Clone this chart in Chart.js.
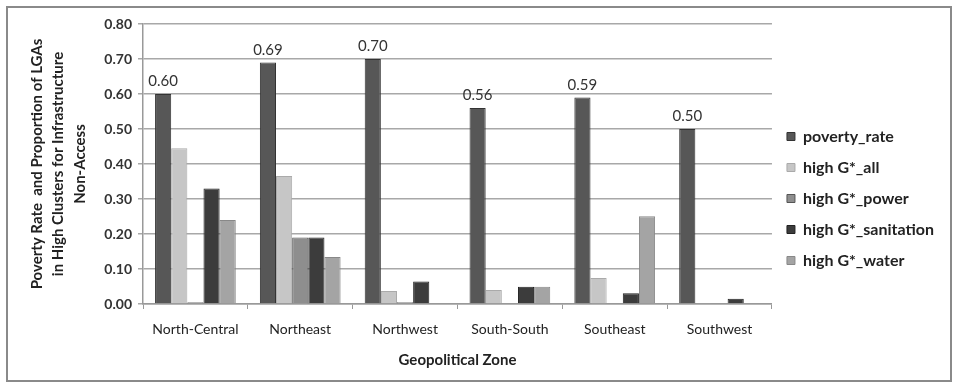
<!DOCTYPE html>
<html>
<head>
<meta charset="utf-8">
<script src="https://cdn.jsdelivr.net/npm/chart.js@4/dist/chart.umd.min.js"></script>
<style>
  html, body { margin: 0; padding: 0; background: #fff; }
  #wrap { position: relative; width: 956px; height: 385px; }
  #frame { position: absolute; left: 6px; top: 6px; width: 942px; height: 372px; border: 2px solid #8a8a8a; pointer-events: none; }
  canvas { position: absolute; left: 0; top: 0; }
</style>
</head>
<body>
<div id="wrap">
  <canvas id="chart" width="956" height="385"></canvas>
  <div id="frame"></div>
</div>
<script>
const zones = ['North-Central', 'Northeast', 'Northwest', 'South-South', 'Southeast', 'Southwest'];
const povertyRate = [0.60, 0.69, 0.70, 0.56, 0.59, 0.50];
const highAll = [0.445, 0.366, 0.037, 0.040, 0.074, 0.003];
const highPower = [0.005, 0.190, 0.005, 0.000, 0.000, 0.000];
const highSanitation = [0.330, 0.190, 0.064, 0.049, 0.031, 0.015];
const highWater = [0.240, 0.134, 0.000, 0.049, 0.251, 0.000];
const yTicks = [0, 0.1, 0.2, 0.3, 0.4, 0.5, 0.6, 0.7, 0.8];

const font = "Lato, 'Open Sans', sans-serif";

// draws the value above each poverty_rate bar
const valueLabels = {
  id: 'valueLabels',
  afterDatasetsDraw(chart) {
    const ctx = chart.ctx;
    const meta = chart.getDatasetMeta(0);
    ctx.save();
    ctx.font = '15px ' + font;
    ctx.fillStyle = '#333';
    ctx.textAlign = 'center';
    ctx.textBaseline = 'bottom';
    meta.data.forEach((bar, i) => {
      ctx.fillText(povertyRate[i].toFixed(2), bar.x, bar.y - 5);
    });
    ctx.restore();
  }
};

function ds(label, data, color, border) {
  return {
    label, data,
    backgroundColor: color,
    borderColor: border,
    borderWidth: 1,
    categoryPercentage: 0.77,
    barPercentage: 1.0
  };
}

new Chart(document.getElementById('chart'), {
  type: 'bar',
  data: {
    labels: zones,
    datasets: [
      ds('poverty_rate', povertyRate, '#575757', '#333'),
      ds('high G*_all', highAll, '#c6c6c6', '#aaa'),
      ds('high G*_power', highPower, '#8e8e8e', '#555'),
      ds('high G*_sanitation', highSanitation, '#3c3c3c', '#222'),
      ds('high G*_water', highWater, '#a4a4a4', '#888')
    ]
  },
  options: {
    responsive: false,
    animation: false,
    layout: { padding: { left: 26, right: 12, top: 24, bottom: 12 } },
    plugins: {
      legend: {
        position: 'right',
        labels: {
          boxWidth: 8, boxHeight: 8, padding: 15,
          color: '#222',
          font: { family: font, size: 16, weight: 'bold' }
        }
      },
      tooltip: { enabled: false }
    },
    scales: {
      x: {
        grid: { offset: true, drawOnChartArea: false, drawTicks: true, tickLength: 5, color: '#999' },
        border: { color: '#999', width: 1.5 },
        ticks: { color: '#222', font: { family: font, size: 14 }, padding: 12 },
        title: { display: true, text: 'Geopolitical Zone', color: '#222', font: { family: font, size: 15, weight: 'bold' }, padding: { top: 15 } },
        afterFit: s => { s.height = 385 - 304 - 12; }
      },
      y: {
        min: 0, max: 0.8,
        afterBuildTicks: s => { s.ticks = yTicks.map(v => ({ value: v })); },
        grid: { color: '#a8a8a8', lineWidth: 1.5, tickLength: 5 },
        border: { color: '#999', width: 1.5 },
        ticks: { color: '#333', font: { family: font, size: 14, weight: 'bold' }, padding: 6, callback: v => v.toFixed(2) },
        title: {
          display: true,
          text: ['Poverty Rate  and Proportion of LGAs', 'in High Clusters for Infrastructure', 'Non-Access'],
          color: '#222',
          font: { family: font, size: 15, weight: 'bold', lineHeight: 1.45 },
          padding: { top: 0, bottom: 4 }
        },
        afterFit: s => { s.width = 143 - 26; }
      }
    }
  },
  plugins: [valueLabels]
});
</script>
</body>
</html>
